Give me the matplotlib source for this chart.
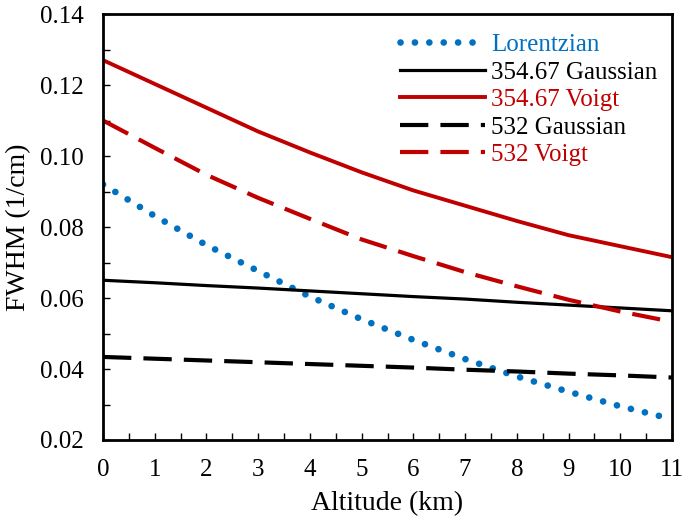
import numpy as np
import matplotlib
matplotlib.use("Agg")
import matplotlib.pyplot as plt
from matplotlib.ticker import MultipleLocator

# ── Data ────────────────────────────────────────────────────────────────
altitude = [0, 1, 2, 3, 4, 5, 6, 7, 8, 9, 10, 11]  # km

lorentzian = [0.0920, 0.0831, 0.0749, 0.0676, 0.0604, 0.0540,
              0.0482, 0.0428, 0.0379, 0.0336, 0.0295, 0.0259]
gauss_354 = [0.0650, 0.0643, 0.0635, 0.0628, 0.0620, 0.0612,
             0.0604, 0.0597, 0.0588, 0.0580, 0.0572, 0.0564]
voigt_354 = [0.1270, 0.1203, 0.1136, 0.1069, 0.1010, 0.0954,
             0.0903, 0.0860, 0.0817, 0.0777, 0.0746, 0.0715]
gauss_532 = [0.0434, 0.0429, 0.0424, 0.0419, 0.0414, 0.0409,
             0.0404, 0.0398, 0.0393, 0.0387, 0.0382, 0.0376]
voigt_532 = [0.1100, 0.1023, 0.0947, 0.0882, 0.0823, 0.0765,
             0.0718, 0.0673, 0.0633, 0.0595, 0.0562, 0.0533]

labels = ["Lorentzian", "354.67 Gaussian", "354.67 Voigt",
          "532 Gaussian", "532 Voigt"]

BLUE = "#0070C0"
RED = "#C00000"
BLACK = "#000000"

plt.rcParams["font.family"] = ["Liberation Serif", "DejaVu Serif"]


def main():
    fig = plt.figure(figsize=(6.85, 5.23), dpi=100)
    ax = fig.add_axes([0.1504, 0.1587, 0.8306, 0.8145])

    ax.plot(altitude, lorentzian, color=BLUE, lw=4.8,
            linestyle=(0, (0.01, 2.15)), dash_capstyle="round",
            label=labels[0])
    ax.plot(altitude, gauss_354, color=BLACK, lw=2.3, label=labels[1])
    ax.plot(altitude, voigt_354, color=RED, lw=2.8, label=labels[2])
    ax.plot(altitude, gauss_532, color=BLACK, lw=3.0,
            dashes=(6.8, 2.9), label=labels[3])
    ax.plot(altitude, voigt_532, color=RED, lw=3.0,
            dashes=(6.8, 2.9), label=labels[4])

    ax.set_xlim(0, 11)
    ax.set_ylim(0.02, 0.14)
    ax.xaxis.set_major_locator(MultipleLocator(1))
    ax.xaxis.set_minor_locator(MultipleLocator(0.5))
    ax.yaxis.set_major_locator(MultipleLocator(0.02))
    ax.yaxis.set_minor_locator(MultipleLocator(0.01))
    ax.yaxis.set_major_formatter(plt.FormatStrFormatter("%.2f"))

    ax.tick_params(which="both", direction="in", length=5, width=1.0,
                   top=False, right=False, labelsize=18)
    ax.tick_params(axis="x", which="major", pad=13.5)
    ax.tick_params(axis="y", which="major", pad=14)

    for side in ax.spines.values():
        side.set_linewidth(2.0)

    ax.set_xlabel("Altitude (km)", fontsize=20, labelpad=7.5)
    ax.set_ylabel("FWHM (1/cm)", fontsize=20, labelpad=6)

    leg = ax.legend(loc="upper right", bbox_to_anchor=(1.014, 1.007),
                    fontsize=18, frameon=False, handlelength=3.4,
                    handletextpad=0.25, labelspacing=0.2,
                    borderaxespad=0.5)
    for text, col in zip(leg.get_texts(), [BLUE, BLACK, RED, BLACK, RED]):
        text.set_color(col)

    fig.savefig("out.png", dpi=100)
    plt.close(fig)


if __name__ == "__main__":
    main()
